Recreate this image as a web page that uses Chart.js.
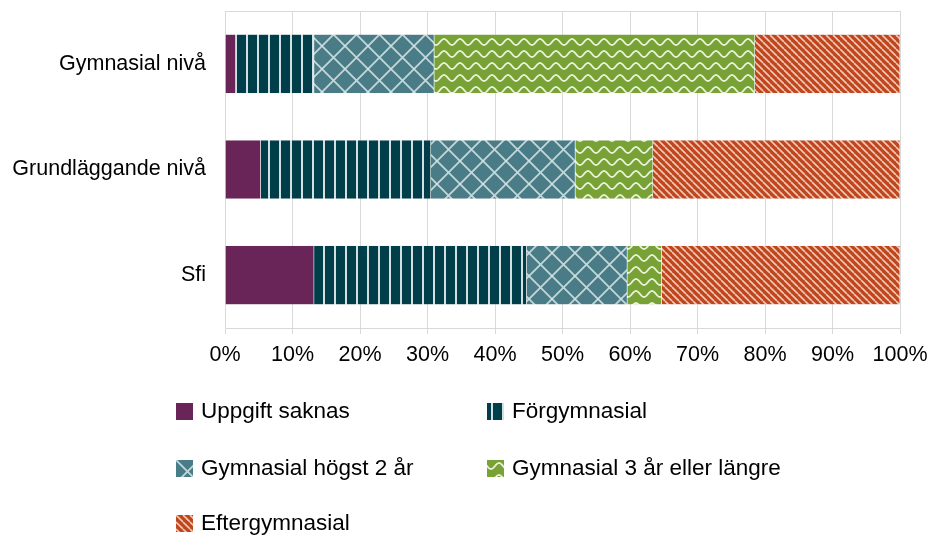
<!DOCTYPE html>
<html>
<head>
<meta charset="utf-8">
<script src="https://cdn.jsdelivr.net/npm/chart.js@4"></script>
<style>
  body { margin: 0; background: #fff; font-family: "Liberation Sans", Arial, sans-serif; }
  #wrap { position: relative; width: 929px; height: 535px; }
  #chartBox { position: absolute; left: 0; top: 0; width: 929px; height: 380px; }
  #legend { position: absolute; left: 0; top: 0; width: 929px; height: 535px; pointer-events: none; }
  .item { position: absolute; display: flex; align-items: center; font-size: 22.5px; line-height: 26px; color: #000; white-space: nowrap; }
  .swatch { width: 17px; height: 17px; margin-right: 8px; }
</style>
</head>
<body>
<div id="wrap">
  <div id="chartBox"><canvas id="chart"></canvas></div>
  <div id="legend"></div>
</div>
<script>
const categories = ["Gymnasial nivå", "Grundläggande nivå", "Sfi"];
const seriesNames = [
  "Uppgift saknas",
  "Förgymnasial",
  "Gymnasial högst 2 år",
  "Gymnasial 3 år eller längre",
  "Eftergymnasial",
];
const uppgiftSaknas = [1.6, 5.3, 13.2];
const forgymnasial = [11.6, 25.2, 31.5];
const gymnasialHogst2 = [17.8, 21.4, 14.9];
const gymnasial3 = [47.5, 11.5, 5.1];
const eftergymnasial = [21.5, 36.6, 35.3];
const xTicks = [0, 10, 20, 30, 40, 50, 60, 70, 80, 90, 100];

const makeTile = (w, h, bg, draw) => {
  const c = document.createElement("canvas");
  c.width = w;
  c.height = h;
  const ctx = c.getContext("2d");
  ctx.fillStyle = bg;
  ctx.fillRect(0, 0, w, h);
  if (draw) draw(ctx, w, h);
  return c;
};

const tiles = [
  makeTile(8, 8, "#6a2558"),
  makeTile(11, 11, "#003f4a", (ctx, w, h) => {
    ctx.fillStyle = "rgba(200,220,224,0.9)";
    ctx.fillRect(4, 0, 2, h);
    ctx.fillStyle = "rgba(255,255,255,0.8)";
    ctx.fillRect(4.5, 0, 1, h);
  }),
  makeTile(23, 23, "#4a7c87", (ctx, w, h) => {
    ctx.strokeStyle = "rgba(235,245,245,0.75)";
    ctx.lineWidth = 1.8;
    for (const o of [-w, 0, w]) {
      ctx.beginPath();
      ctx.moveTo(o, 0);
      ctx.lineTo(o + w, h);
      ctx.moveTo(o + w, 0);
      ctx.lineTo(o, h);
      ctx.stroke();
    }
  }),
  makeTile(16, 12, "#78a236", (ctx, w, h) => {
    ctx.strokeStyle = "rgba(245,250,235,0.9)";
    ctx.lineWidth = 1.8;
    ctx.beginPath();
    for (let x = -1; x <= w + 1; x += 0.5) {
      const y = 6 + 3 * Math.sin((2 * Math.PI * x) / w);
      if (x === -1) ctx.moveTo(x, y);
      else ctx.lineTo(x, y);
    }
    ctx.stroke();
  }),
  makeTile(7, 7, "#c0461e", (ctx, w, h) => {
    ctx.strokeStyle = "rgba(250,225,210,0.85)";
    ctx.lineWidth = 1.6;
    for (const o of [-w, 0, w]) {
      ctx.beginPath();
      ctx.moveTo(o, 0);
      ctx.lineTo(o + w, h);
      ctx.stroke();
    }
  }),
];

const ctx = document.getElementById("chart").getContext("2d");
const patterns = tiles.map((t) => ctx.createPattern(t, "repeat"));
const seriesData = [uppgiftSaknas, forgymnasial, gymnasialHogst2, gymnasial3, eftergymnasial];

Chart.defaults.font.family = '"Liberation Sans", Arial, sans-serif';
Chart.defaults.color = "#000";

// top edge of the plot frame
const topFrame = {
  id: "topFrame",
  afterDraw: (chart) => {
    const { ctx, chartArea } = chart;
    ctx.save();
    ctx.strokeStyle = "#d9d9d9";
    ctx.lineWidth = 1;
    ctx.beginPath();
    ctx.moveTo(chartArea.left, Math.round(chartArea.top) + 0.5);
    ctx.lineTo(chartArea.right, Math.round(chartArea.top) + 0.5);
    ctx.stroke();
    ctx.restore();
  },
};

new Chart(ctx, {
  type: "bar",
  data: {
    labels: categories,
    datasets: seriesNames.map((name, i) => ({
      label: name,
      data: seriesData[i],
      backgroundColor: patterns[i],
      borderColor: "rgba(217,217,217,0.6)",
      borderWidth: 0.5,
      categoryPercentage: 1,
      barPercentage: 0.56,
    })),
  },
  options: {
    indexAxis: "y",
    responsive: true,
    maintainAspectRatio: false,
    animation: false,
    layout: { padding: { left: 0, right: 29, top: 11, bottom: 0 } },
    plugins: { legend: { display: false }, tooltip: { enabled: false } },
    scales: {
      x: {
        stacked: true,
        min: 0,
        max: 100,
        afterBuildTicks: (scale) => {
          scale.ticks = xTicks.map((v) => ({ value: v }));
        },
        afterFit: (scale) => {
          scale.height = 52;
          scale.paddingLeft = 0;
          scale.paddingRight = 0;
        },
        grid: { color: "#d9d9d9", lineWidth: 1, tickLength: 6 },
        border: { color: "#d9d9d9" },
        ticks: {
          font: { size: 21.5 },
          padding: 8,
          maxRotation: 0,
          callback: (v) => v + "%",
        },
      },
      y: {
        stacked: true,
        afterFit: (scale) => {
          scale.width = 225;
          scale.paddingTop = 0;
          scale.paddingBottom = 0;
        },
        grid: { display: false, drawTicks: false },
        border: { color: "#d9d9d9" },
        ticks: { font: { size: 21.5 }, padding: 19 },
      },
    },
  },
  plugins: [topFrame],
});

const legendPos = [
  [176, 411],
  [487, 411],
  [176, 468],
  [487, 468],
  [176, 523],
];
const legendEl = document.getElementById("legend");
seriesNames.forEach((name, i) => {
  const item = document.createElement("div");
  item.className = "item";
  item.style.left = legendPos[i][0] + "px";
  item.style.top = legendPos[i][1] - 13 + "px";
  const sw = document.createElement("div");
  sw.className = "swatch";
  sw.style.backgroundImage = `url(${tiles[i].toDataURL()})`;
  item.appendChild(sw);
  const label = document.createElement("span");
  label.textContent = name;
  item.appendChild(label);
  legendEl.appendChild(item);
});
</script>
</body>
</html>
